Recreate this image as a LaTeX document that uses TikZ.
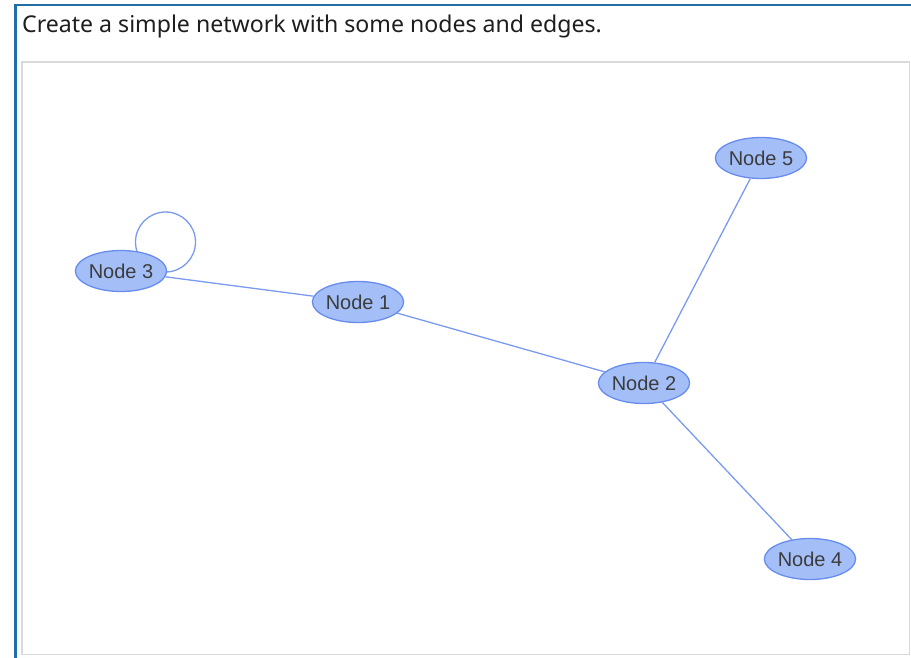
\documentclass[tikz,border=0pt]{standalone}
\usepackage{fontspec}
\setmainfont{Liberation Sans}
\newfontfamily\titlefont{Noto Sans}
\usetikzlibrary{shapes.geometric}
\definecolor{nodefill}{RGB}{164,191,248}
\definecolor{nodeline}{RGB}{104,140,238}
\definecolor{edgecol}{RGB}{122,155,240}
\definecolor{framecol}{RGB}{31,110,166}
\definecolor{boxcol}{RGB}{217,217,217}
\definecolor{labelcol}{RGB}{60,60,60}
\tikzset{
  netnode/.style={ellipse, draw=nodeline, fill=nodefill, line width=1.3pt,
    minimum width=88pt, minimum height=41pt, inner sep=0pt,
    font=\fontsize{20}{20}\selectfont, text=labelcol},
  netedge/.style={draw=edgecol, line width=1.3pt},
}
\begin{document}
\begin{tikzpicture}[x=1pt,y=-1pt]
\useasboundingbox (0,0) rectangle (911,658);
\fill[white] (0,0) rectangle (911,658);
% outer frame
\draw[framecol, line width=2.2pt] (15.5,658) -- (15.5,5) -- (911,5);
% inner box
\draw[boxcol, line width=1.5pt] (22,62) rectangle (909.5,654.5);
% title
\node[anchor=base west, inner sep=0pt, text={rgb,255:red,30;green,30;blue,30},
  font=\titlefont\fontsize{23.1}{23.1}\selectfont] (title) at (22,33)
  {Create a simple network with some nodes and edges.};
% loop (drawn under node)
\coordinate (loopc) at (165.5,242);
\draw[netedge] (loopc) circle (30);
% nodes
\node[netnode] (n3) at (121,271) {Node 3};
\node[netnode] (n1) at (358,302) {Node 1};
\node[netnode] (n2) at (644,383) {Node 2};
\node[netnode] (n5) at (761,158) {Node 5};
\node[netnode] (n4) at (810,559) {Node 4};
% edges
\draw[netedge] (n3) -- (n1);
\draw[netedge] (n1) -- (n2);
\draw[netedge] (n2) -- (n5);
\draw[netedge] (n2) -- (n4);
\end{tikzpicture}
\end{document}
